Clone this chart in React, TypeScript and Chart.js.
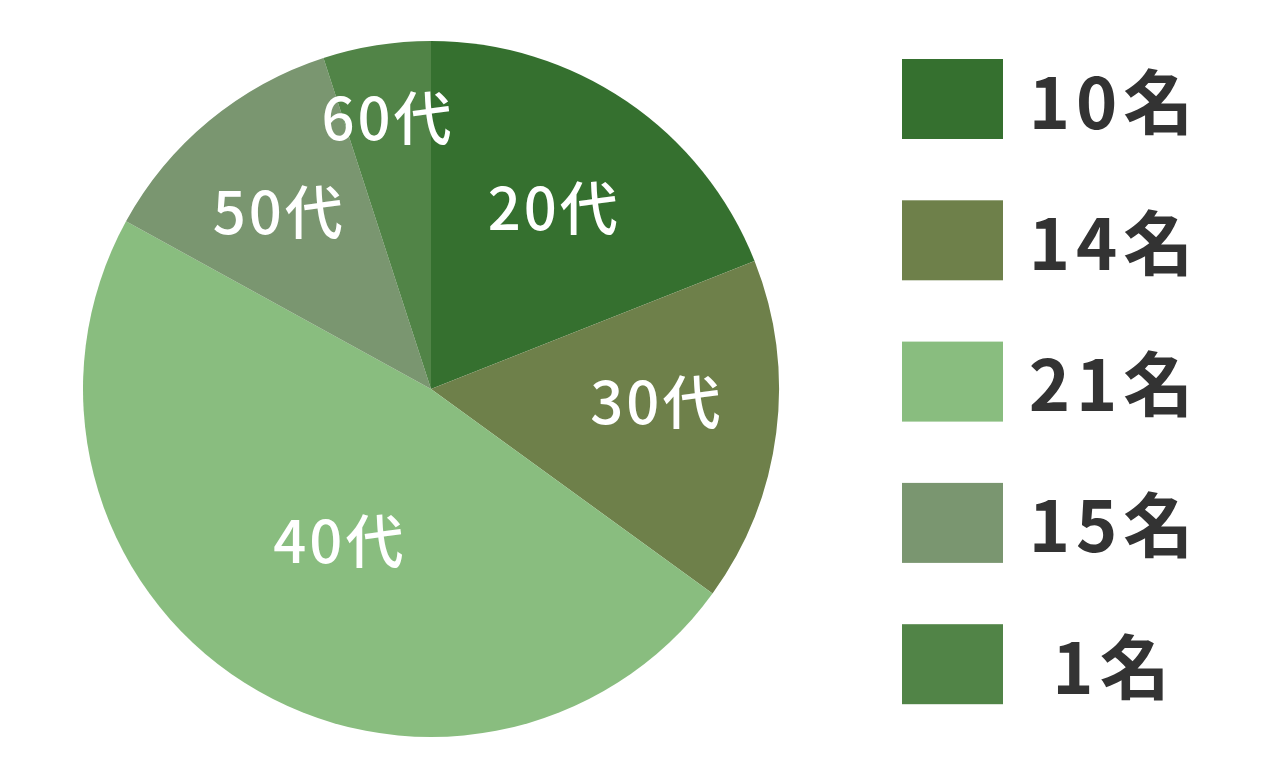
import React, { useEffect, useRef } from "react";
import { Chart, registerables } from "chart.js";

Chart.register(...registerables);

// ---- data ----
const AGE_GROUPS = ["20代", "30代", "40代", "50代", "60代"];
const SHARE_VALUES = [19, 16, 48, 12, 5];
const LEGEND_LABELS = ["10名", "14名", "21名", "15名", "1名"];
const SLICE_COLORS = ["#35702F", "#6E804A", "#89BD7F", "#7A9670", "#518447"];

// label placement (fraction of radius) per slice – style, not data
const LABEL_RADIUS = [0.63, 0.65, 0.51, 0.67, 0.79];
const LABEL_ANGLE_SHIFT = [0, -4, -1.5, -1, 0];

const FONT = "'Noto Sans CJK JP', 'Noto Sans', sans-serif";

const sliceLabelPlugin = {
  id: "sliceLabels",
  afterDatasetsDraw(chart: any) {
    const { ctx } = chart;
    const meta = chart.getDatasetMeta(0);
    ctx.save();
    ctx.font = `500 58px ${FONT}`;
    (ctx as any).letterSpacing = "3px";
    ctx.fillStyle = "#FFFFFF";
    ctx.textAlign = "center";
    ctx.textBaseline = "middle";
    meta.data.forEach((arc: any, i: number) => {
      const { x, y, startAngle, endAngle, outerRadius } = arc.getProps(
        ["x", "y", "startAngle", "endAngle", "outerRadius"],
        true
      );
      const mid = (startAngle + endAngle) / 2 + (LABEL_ANGLE_SHIFT[i] * Math.PI) / 180;
      const r = outerRadius * LABEL_RADIUS[i];
      ctx.fillText(chart.data.labels[i], x + Math.cos(mid) * r, y + Math.sin(mid) * r);
    });
    ctx.restore();
  },
};

const sideLegendPlugin = {
  id: "sideLegend",
  afterDraw(chart: any) {
    const { ctx } = chart;
    const ds = chart.data.datasets[0];
    const boxX = 902;
    const boxW = 101;
    const boxH = 80;
    const top = 59;
    const step = 141.3;
    const textCenterX = 1111;
    ctx.save();
    ctx.font = `bold 70px ${FONT}`;
    (ctx as any).letterSpacing = "6px";
    ctx.textAlign = "center";
    ctx.textBaseline = "middle";
    LEGEND_LABELS.forEach((lab, i) => {
      const y = top + step * i;
      ctx.fillStyle = ds.backgroundColor[i];
      ctx.fillRect(boxX, y, boxW, boxH);
      ctx.fillStyle = "#333333";
      ctx.fillText(lab, textCenterX + 3, y + boxH / 2 + 3);
    });
    ctx.restore();
  },
};

export default function App() {
  const canvasRef = useRef<HTMLCanvasElement | null>(null);

  useEffect(() => {
    document.body.style.margin = "0";
    const canvas = canvasRef.current;
    if (!canvas) return;
    const chart = new Chart(canvas, {
      type: "pie",
      data: {
        labels: AGE_GROUPS,
        datasets: [
          {
            data: SHARE_VALUES,
            backgroundColor: SLICE_COLORS,
            borderWidth: 0,
          },
        ],
      },
      options: {
        animation: false,
        responsive: true,
        maintainAspectRatio: false,
        layout: {
          padding: { left: 83, right: 482, top: 41, bottom: 24 },
        },
        plugins: {
          legend: { display: false },
          tooltip: { enabled: false },
        },
      },
      plugins: [sliceLabelPlugin, sideLegendPlugin],
    });
    return () => chart.destroy();
  }, []);

  return (
    <div style={{ width: 1261, height: 761, position: "relative", background: "#fff" }}>
      <canvas ref={canvasRef} />
    </div>
  );
}
